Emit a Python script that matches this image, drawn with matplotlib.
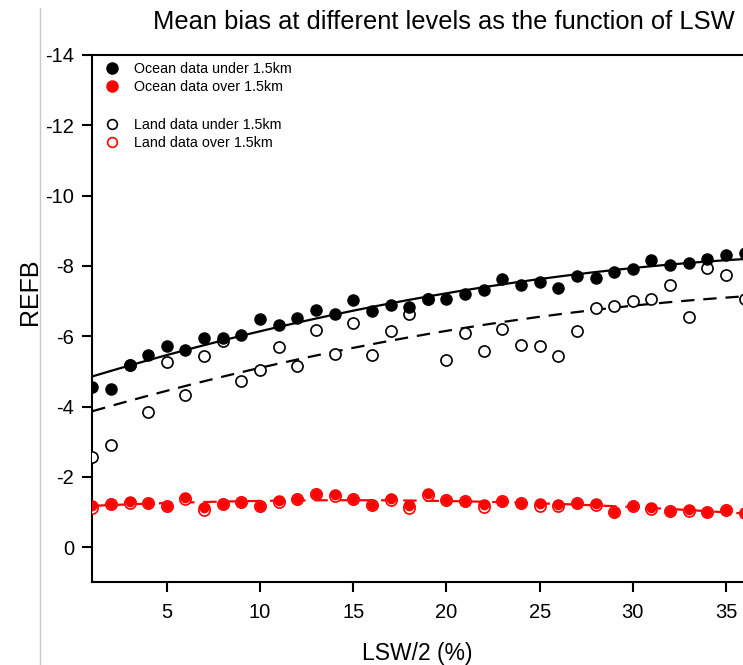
import numpy as np
import matplotlib.pyplot as plt
from matplotlib.lines import Line2D

plt.rcParams['font.family'] = ['Liberation Sans', 'DejaVu Sans']
plt.rcParams['axes.unicode_minus'] = False

lsw = np.arange(1, 37)

ocean_under = [-4.55, -4.49, -5.17, -5.46, -5.72, -5.60, -5.96, -5.96, -6.03, -6.50,
               -6.31, -6.52, -6.75, -6.64, -7.02, -6.73, -6.88, -6.84, -7.05, -7.05,
               -7.19, -7.31, -7.62, -7.45, -7.53, -7.36, -7.70, -7.66, -7.83, -7.91,
               -8.16, -8.03, -8.07, -8.19, -8.30, -8.38]
land_under = [-2.55, -2.91, -5.17, -3.83, -5.27, -4.32, -5.44, -5.85, -4.72, -5.05,
              -5.69, -5.15, -6.19, -5.50, -6.38, -5.46, -6.16, -6.63, -7.05, -5.31,
              -6.10, -5.58, -6.20, -5.75, -5.72, -5.43, -6.14, -6.79, -6.87, -6.99,
              -7.06, -7.47, -6.56, -7.95, -7.75, -7.05]
ocean_over = [-1.16, -1.23, -1.29, -1.26, -1.16, -1.40, -1.10, -1.23, -1.29, -1.18,
              -1.32, -1.38, -1.50, -1.48, -1.37, -1.21, -1.37, -1.16, -1.50, -1.33,
              -1.31, -1.21, -1.31, -1.26, -1.23, -1.21, -1.26, -1.23, -0.99, -1.18,
              -1.12, -1.02, -1.07, -0.99, -1.07, -0.97]
land_over = [-1.12, -1.23, -1.25, -1.26, -1.16, -1.38, -1.05, -1.22, -1.29, -1.18,
             -1.27, -1.36, -1.50, -1.45, -1.37, -1.21, -1.35, -1.10, -1.48, -1.33,
             -1.31, -1.15, -1.31, -1.26, -1.18, -1.18, -1.26, -1.20, -0.99, -1.18,
             -1.08, -1.02, -1.03, -0.99, -1.07, -0.97]

fig = plt.figure(figsize=(7.43, 6.65), dpi=100)
ax = fig.add_axes([0.1242, 0.1244, 0.8758, 0.7929])

# quadratic fits
xf = np.linspace(1, 36, 200)
ax.plot(xf, np.polyval(np.polyfit(lsw, ocean_under, 2), xf), color='black', lw=1.6, zorder=2)
ax.plot(xf, np.polyval(np.polyfit(lsw, land_under, 2), xf), color='black', lw=1.6,
        ls=(0, (6, 4)), zorder=2)
ax.plot(xf, np.polyval(np.polyfit(lsw, ocean_over, 2), xf), color='red', lw=1.6,
        ls=(0, (6, 4)), zorder=2)

ms = 8
ax.plot(lsw, land_under, 'o', mfc='white', mec='black', mew=1.2, ms=ms, zorder=3)
ax.plot(lsw, ocean_under, 'o', color='black', ms=ms, zorder=3)
ax.plot(lsw, ocean_over, 'o', color='red', ms=ms, zorder=3)
ax.plot(lsw, land_over, 'o', mfc='white', mec='red', mew=1.2, ms=ms, zorder=3)
ax.plot(lsw, ocean_over, 'o', color='red', ms=ms * 0.75, zorder=4)

ax.set_xlim(1, 35.91)
ax.set_ylim(1, -14)
ax.set_yticks(np.arange(-14, 1, 2))
ax.set_xticks(np.arange(5, 36, 5))
ax.spines['right'].set_visible(False)
for s in ['left', 'bottom', 'top']:
    ax.spines[s].set_linewidth(1.5)
ax.tick_params(direction='out', length=7, width=1.5, labelsize=14.5, pad=6)
ax.tick_params(axis='x', pad=8)

ax.set_xlabel('LSW/2 (%)', fontsize=16.5, labelpad=14)
fig.text(30 / 743, 1 - 292 / 665, 'REFB', fontsize=18, rotation=90,
         ha='center', va='center')
fig.text(443.5 / 743, 1 - 22 / 665, 'Mean bias at different levels as the function of LSW',
         fontsize=18.4, ha='center', va='center')

handles = [
    Line2D([], [], marker='o', ls='', color='black', ms=8),
    Line2D([], [], marker='o', ls='', color='red', ms=8),
    Line2D([], [], ls='', marker=''),
    Line2D([], [], marker='o', ls='', mfc='white', mec='black', mew=1.2, ms=7),
    Line2D([], [], marker='o', ls='', mfc='white', mec='red', mew=1.2, ms=7),
]
labels = ['Ocean data under 1.5km', 'Ocean data over 1.5km', ' ',
          'Land data under 1.5km', 'Land data over 1.5km']
ax.legend(handles, labels, loc='upper left', frameon=False, fontsize=10.3,
          handlelength=1.0, handletextpad=1.05, labelspacing=0.33,
          borderaxespad=0.5, bbox_to_anchor=(0.0, 1.012))

fig.add_artist(Line2D([40 / 743, 40 / 743], [0, 1 - 8 / 665], color='#c8c8c8', lw=1))

fig.savefig('out.png', dpi=100)
